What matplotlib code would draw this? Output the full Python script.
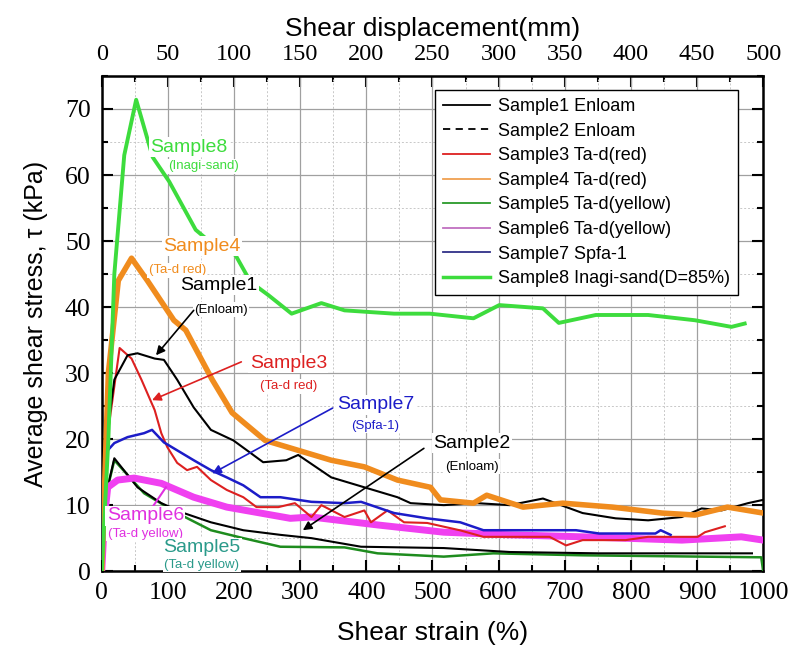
import matplotlib.pyplot as plt
from matplotlib.ticker import FixedLocator, MultipleLocator

# shear strain (%) / average shear stress (kPa)
s1_x = [0, 3, 7, 19, 39, 54, 80, 94, 114, 139, 165, 199, 225, 244, 279, 297, 347, 397, 447, 467,
        517, 567, 617, 667, 727, 777, 826, 877, 907, 937, 977, 1000]
s1_y = [0, 12, 20, 29, 32.7, 33, 32.2, 32, 29, 24.8, 21.4, 19.8, 17.9, 16.5, 16.8, 17.6, 14.2, 12.7,
        11.2, 10.3, 10, 10.3, 10, 11, 8.8, 8, 7.7, 8.2, 9.5, 9.2, 10.3, 10.8]
s2_x = [0, 5, 19, 54, 90, 124, 165, 214, 270, 317, 392, 517, 617, 752, 983]
s2_y = [0, 11, 17.1, 12.7, 10.3, 8.8, 7.4, 6.2, 5.5, 5, 3.7, 3.5, 2.9, 2.7, 2.7]
s3_x = [0, 8, 27, 45, 60, 80, 90, 99, 114, 129, 144, 165, 189, 214, 234, 267, 292, 317, 332, 367,
        397, 407, 432, 457, 492, 541, 577, 677, 702, 727, 792, 826, 901, 912, 942]
s3_y = [0, 20, 33.8, 32.2, 29, 24.4, 20.9, 18.8, 16.4, 15.3, 15.8, 13.8, 12.3, 11.2, 9.7, 9.7, 10.3,
        8.2, 10, 8.2, 9.2, 7.4, 9.2, 7.4, 7.3, 6.2, 5.2, 5.2, 3.9, 4.7, 4.7, 5.2, 5.2, 5.9, 6.8]
s4_x = [0, 10, 25, 45, 69, 109, 127, 167, 197, 247, 297, 347, 397, 447, 497, 512, 562, 582, 637,
        697, 772, 847, 897, 946, 1000]
s4_y = [0, 30, 44, 47.4, 44, 38, 36.5, 29, 24, 19.8, 18.3, 16.8, 15.8, 13.8, 12.7, 10.8, 10.3,
        11.5, 9.7, 10.3, 9.7, 8.8, 8.5, 9.7, 8.8]
s5_x = [0, 5, 19, 64, 114, 165, 214, 270, 367, 417, 517, 592, 727, 997, 1000]
s5_y = [0, 11, 16.8, 11.8, 8.8, 6.2, 5, 3.7, 3.6, 2.7, 2.2, 2.7, 2.4, 2.1, 0]
s6_x = [0, 4, 9, 24, 49, 90, 139, 189, 240, 285, 317, 417, 517, 617, 727, 877, 967, 1000]
s6_y = [0, 8, 12.7, 13.8, 14.1, 13.3, 11.2, 9.7, 8.8, 8, 8.2, 7, 5.9, 5.5, 5.2, 4.7, 5.2, 4.7]
s7_x = [0, 4, 9, 19, 39, 64, 76, 94, 114, 139, 165, 189, 214, 240, 270, 317, 367, 392, 442, 492,
        542, 577, 617, 717, 752, 837, 845, 860]
s7_y = [0, 12, 18.3, 19.4, 20.3, 20.9, 21.4, 19.5, 18.3, 16.8, 15.3, 14.2, 13, 11.2, 11.2, 10.5,
        10.3, 10.5, 8.8, 8, 7.4, 6.2, 6.2, 6.2, 5.7, 5.7, 6.2, 5.5]
s8_x = [0, 10, 19, 34, 52, 77, 102, 142, 174, 202, 225, 252, 287, 332, 367, 442, 496, 562, 601,
        667, 691, 747, 826, 897, 952, 972]
s8_y = [0, 20, 45, 63, 71.4, 62.7, 59, 51.7, 49, 47.9, 43.8, 41.8, 39, 40.6, 39.5, 39, 39, 38.3,
        40.3, 39.8, 37.6, 38.8, 38.8, 38, 37, 37.5]

top_ticks = [0, 50, 100, 150, 200, 250, 300, 350, 400, 450, 500]

labels = ["Sample1 Enloam", "Sample2 Enloam", "Sample3 Ta-d(red)", "Sample4 Ta-d(red)",
          "Sample5 Ta-d(yellow)", "Sample6 Ta-d(yellow)", "Sample7 Spfa-1",
          "Sample8 Inagi-sand(D=85%)"]

SERIF = "Liberation Serif"
SANS = "Liberation Sans"

fig = plt.figure(figsize=(7.95, 6.55), dpi=100)
ax = fig.add_axes([0.128, 0.128, 0.832, 0.756])

ax.plot(s5_x, s5_y, color="#1e8c1e", lw=1.8, zorder=3)
ax.plot(s2_x, s2_y, color="black", lw=1.5, zorder=3)
ax.plot(s6_x, s6_y, color="#f040f0", lw=5, zorder=3)
ax.plot(s3_x, s3_y, color="#dd2020", lw=1.5, zorder=3)
ax.plot(s7_x, s7_y, color="#1c1cc8", lw=1.8, zorder=3)
ax.plot(s1_x, s1_y, color="black", lw=1.5, zorder=3)
ax.plot(s4_x, s4_y, color="#f08c1e", lw=4, zorder=3)
ax.plot(s8_x, s8_y, color="#3ddc3d", lw=2.8, zorder=3)

ax.set_xlim(0, 1000)
ax.set_ylim(0, 75)
ax.xaxis.set_major_locator(MultipleLocator(100))
ax.xaxis.set_minor_locator(MultipleLocator(50))
ax.yaxis.set_major_locator(MultipleLocator(10))
ax.yaxis.set_minor_locator(MultipleLocator(5))
ax.grid(which="major", color="#a0a0a0", lw=0.9)
ax.grid(which="minor", color="#c8c8c8", lw=0.7, ls=(0, (2, 2)))
ax.set_axisbelow(True)
ax.tick_params(which="both", direction="in", right=True, width=1.5)
ax.tick_params(which="major", length=8, labelsize=18.5, pad=8)
ax.tick_params(which="minor", length=4)
for lab in ax.get_xticklabels() + ax.get_yticklabels():
    lab.set_family(SERIF)
for sp in ax.spines.values():
    sp.set_linewidth(1.8)

top = ax.secondary_xaxis("top", functions=(lambda v: v / 2, lambda v: v * 2))
top.xaxis.set_major_locator(FixedLocator(top_ticks))
top.xaxis.set_minor_locator(MultipleLocator(25))
top.tick_params(which="both", direction="in", width=1.5)
top.tick_params(which="major", length=8, labelsize=17.5, pad=8)
top.tick_params(which="minor", length=4)
for lab in top.get_xticklabels():
    lab.set_family(SERIF)
top.set_xlabel("Shear displacement(mm)", fontsize=19, family=SANS, labelpad=6)

ax.set_xlabel("Shear strain (%)", fontsize=19, family=SANS, labelpad=12)
ax.set_ylabel("Average shear stress, τ (kPa)", fontsize=18, family=SANS, labelpad=12)

handles = [
    plt.Line2D([], [], color="black", lw=1.3),
    plt.Line2D([], [], color="black", lw=1.3, ls=(0, (4, 3))),
    plt.Line2D([], [], color="#dd2020", lw=1.3),
    plt.Line2D([], [], color="#f0a050", lw=1.3),
    plt.Line2D([], [], color="#2a9a2a", lw=1.3),
    plt.Line2D([], [], color="#c070c0", lw=1.3),
    plt.Line2D([], [], color="#303088", lw=1.3),
    plt.Line2D([], [], color="#3ddc3d", lw=2.5),
]
leg = ax.legend(handles, labels, loc="upper right", bbox_to_anchor=(0.975, 0.99),
                prop={"family": SANS, "size": 13}, handlelength=2.6, labelspacing=0.42,
                borderpad=0.45, handletextpad=0.4, fancybox=False, framealpha=1,
                edgecolor="black")
leg.get_frame().set_linewidth(1.0)
leg.set_zorder(6)

box = dict(facecolor="white", edgecolor="none", pad=1)


def label(x, y, main, sub, color, sx=None, sy=None, subcolor=None):
    ax.text(x, y, main, color=color, fontsize=14, family=SANS, ha="center", va="center",
            bbox=box, zorder=5)
    ax.text(sx if sx is not None else x, sy, sub, color=subcolor or color, fontsize=9.5,
            family=SANS, ha="center", va="center", bbox=box, zorder=5)


def arrow(x0, y0, x1, y1, color):
    ax.annotate("", xy=(x1, y1), xytext=(x0, y0), zorder=5,
                arrowprops=dict(arrowstyle="-|>", color=color, lw=1.2,
                                mutation_scale=13, shrinkA=0, shrinkB=0))


label(132, 64.2, "Sample8", "(Inagi-sand)", "#3ddc3d", sx=154, sy=61.3)
label(151, 49.2, "Sample4", "(Ta-d red)", "#f08c1e", sx=114, sy=45.6)
label(177, 43.3, "Sample1", "(Enloam)", "black", sx=180, sy=39.6)
label(282, 31.5, "Sample3", "(Ta-d red)", "#dd2020", sy=28.0)
label(414, 25.2, "Sample7", "(Spfa-1)", "#1c1cc8", sy=22.0)
label(560, 19.4, "Sample2", "(Enloam)", "black", sy=15.8)
label(66, 8.4, "Sample6", "(Ta-d yellow)", "#e030e0", sy=5.7)
label(151, 3.6, "Sample5", "(Ta-d yellow)", "#2a9a8a", sy=1.0)

arrow(139, 39.5, 82, 32.7, "black")
arrow(211, 31.7, 76, 25.9, "#dd2020")
arrow(349, 24.7, 167, 14.8, "#1c1cc8")
arrow(487, 18.6, 304, 6.2, "black")
ax.plot([76, 97], [9.6, 12.7], color="#e030e0", lw=1.5, zorder=4)

fig.savefig("out.png", dpi=100)
